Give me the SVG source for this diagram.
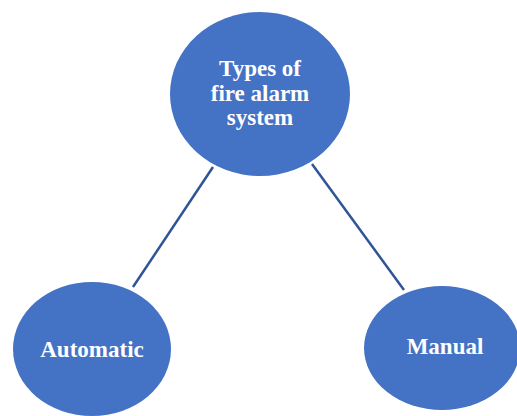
<svg xmlns="http://www.w3.org/2000/svg" width="517" height="416" viewBox="0 0 517 416">
  <style>
    .node { fill: #4472C4; }
    .label { fill: #FFFFFF; font-family: "Liberation Serif", "Times New Roman", serif; font-weight: bold; font-size: 23px; text-anchor: middle; }
    .edge { stroke: #2F5597; stroke-width: 2.5; fill: none; }
  </style>
  <rect width="517" height="416" fill="#FFFFFF"/>
  <g id="connectors">
    <line class="edge" x1="213" y1="167" x2="133" y2="287"/>
    <line class="edge" x1="312" y1="164" x2="404" y2="290"/>
  </g>
  <g id="root">
    <ellipse class="node" cx="260" cy="94" rx="90" ry="82"/>
    <text class="label" x="260" y="76">Types of</text>
    <text class="label" x="260" y="100.5">fire alarm</text>
    <text class="label" x="260" y="125">system</text>
  </g>
  <g id="automatic">
    <ellipse class="node" cx="92" cy="349" rx="79" ry="67"/>
    <text class="label" x="92" y="357">Automatic</text>
  </g>
  <g id="manual">
    <ellipse class="node" cx="442" cy="348" rx="78" ry="62"/>
    <text class="label" x="445" y="354">Manual</text>
  </g>
</svg>
